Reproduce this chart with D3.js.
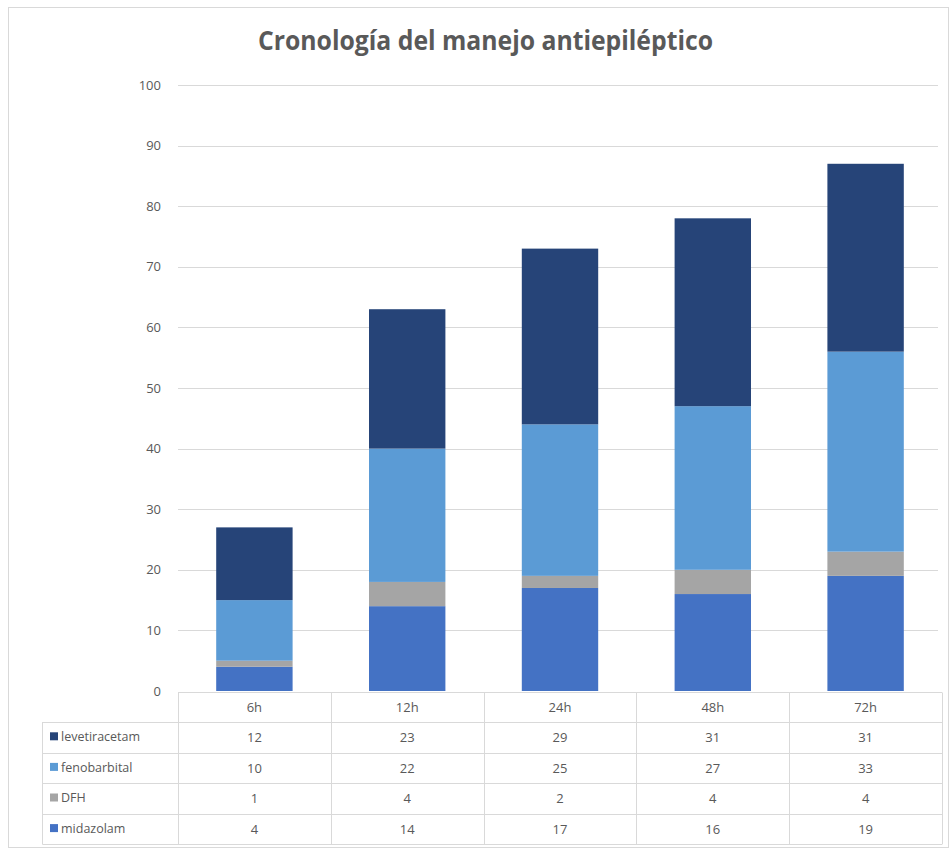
<!DOCTYPE html>
<html>
<head>
<meta charset="utf-8">
<script src="https://cdn.jsdelivr.net/npm/d3@7"></script>
<style>
  body { margin: 0; background: #fff; }
  svg { font-family: "Open Sans", "Liberation Sans", sans-serif; }
</style>
</head>
<body>
<script>
// data
let categories = ["6h", "12h", "24h", "48h", "72h"];
let seriesNames = ["midazolam", "DFH", "fenobarbital", "levetiracetam"];
let midazolam = [4, 14, 17, 16, 19];
let dfh = [1, 4, 2, 4, 4];
let fenobarbital = [10, 22, 25, 27, 33];
let levetiracetam = [12, 23, 29, 31, 31];
let yTicks = [0, 10, 20, 30, 40, 50, 60, 70, 80, 90, 100];

let colors = {
  midazolam: "#4472c4",
  DFH: "#a5a5a5",
  fenobarbital: "#5b9bd5",
  levetiracetam: "#264478"
};

// table rows order (top to bottom)
let tableRows = [
  {name: "levetiracetam", values: levetiracetam},
  {name: "fenobarbital", values: fenobarbital},
  {name: "DFH", values: dfh},
  {name: "midazolam", values: midazolam}
];

let rows = categories.map((c, i) => ({
  cat: c,
  midazolam: midazolam[i],
  DFH: dfh[i],
  fenobarbital: fenobarbital[i],
  levetiracetam: levetiracetam[i]
}));

let width = 952, height = 852;
let svg = d3.select("body").append("svg")
  .attr("width", width)
  .attr("height", height);

// chart frame
svg.append("rect")
  .attr("x", 8.5).attr("y", 7.5)
  .attr("width", 940).attr("height", 840)
  .attr("fill", "#fff")
  .attr("stroke", "#d9d9d9");

let left = 178, right = 942;
let x = d3.scaleBand().domain(categories).range([left, right])
  .paddingInner(0.5).paddingOuter(0.25);
let xCol = d3.scaleBand().domain(categories).range([left, right]).padding(0);
let y = d3.scaleLinear().domain([0, 100]).range([691, 85]);

// title
svg.append("text")
  .attr("x", 485.5).attr("y", 50)
  .attr("text-anchor", "middle")
  .attr("textLength", 455)
  .attr("lengthAdjust", "spacingAndGlyphs")
  .style("font-size", "26px")
  .style("font-weight", "bold")
  .style("fill", "#595959")
  .text("Cronología del manejo antiepiléptico");

// gridlines
svg.append("g")
  .selectAll("line")
  .data(yTicks.filter(d => d > 0))
  .enter()
  .append("line")
  .attr("x1", left).attr("x2", right - 4)
  .attr("y1", d => Math.round(y(d)) + 0.5)
  .attr("y2", d => Math.round(y(d)) + 0.5)
  .attr("stroke", "#d9d9d9");

// y axis labels
let yAxis = d3.axisLeft(y).tickValues(yTicks).tickSize(0).tickPadding(0);
let yg = svg.append("g")
  .attr("transform", "translate(" + (left - 17) + ",0)")
  .call(yAxis);
yg.select(".domain").remove();
yg.selectAll("text")
  .style("font-size", "13px")
  .style("fill", "#595959")
  .style("font-family", "'Open Sans', sans-serif");

// stacked bars
let stack = d3.stack().keys(seriesNames);
let stacked = stack(rows);

svg.append("g")
  .selectAll("g")
  .data(stacked)
  .enter()
  .append("g")
  .attr("fill", d => colors[d.key])
  .selectAll("rect")
  .data(d => d)
  .enter()
  .append("rect")
  .attr("x", d => x(d.data.cat))
  .attr("y", d => y(d[1]))
  .attr("width", x.bandwidth())
  .attr("height", d => y(d[0]) - y(d[1]));

// data table
let tableTop = 692.5, headerH = 29.5, rowH = 30.6;
let tableLeft = 42.5;
let tableBottom = tableTop + headerH + rowH * tableRows.length;
let lineColor = "#d9d9d9";
let tg = svg.append("g");

// horizontal lines
tg.append("line")
  .attr("x1", left).attr("x2", right)
  .attr("y1", tableTop).attr("y2", tableTop)
  .attr("stroke", lineColor);
d3.range(tableRows.length + 1).forEach(i => {
  let yy = Math.round(tableTop + headerH + rowH * i) + 0.5;
  tg.append("line")
    .attr("x1", tableLeft).attr("x2", right)
    .attr("y1", yy).attr("y2", yy)
    .attr("stroke", lineColor);
});
// vertical lines
tg.append("line")
  .attr("x1", tableLeft).attr("x2", tableLeft)
  .attr("y1", tableTop + headerH).attr("y2", tableBottom)
  .attr("stroke", lineColor);
categories.forEach(c => {
  let xx = Math.round(xCol(c)) + 0.5;
  tg.append("line")
    .attr("x1", xx).attr("x2", xx)
    .attr("y1", tableTop).attr("y2", tableBottom)
    .attr("stroke", lineColor);
});
tg.append("line")
  .attr("x1", right + 0.5).attr("x2", right + 0.5)
  .attr("y1", tableTop).attr("y2", tableBottom)
  .attr("stroke", lineColor);

// header labels
tg.selectAll("text.head")
  .data(categories)
  .enter()
  .append("text")
  .attr("class", "head")
  .attr("x", d => xCol(d) + xCol.bandwidth() / 2)
  .attr("y", tableTop + headerH / 2 + 5)
  .attr("text-anchor", "middle")
  .style("font-size", "13px")
  .style("fill", "#595959")
  .text(d => d);

// rows
let rowG = tg.selectAll("g.row")
  .data(tableRows)
  .enter()
  .append("g")
  .attr("class", "row")
  .attr("transform", (d, i) => "translate(0," + (tableTop + headerH + rowH * i) + ")");

rowG.append("rect")
  .attr("x", 50).attr("y", rowH / 2 - 5)
  .attr("width", 8).attr("height", 8)
  .attr("fill", d => colors[d.name]);

rowG.append("text")
  .attr("x", 61).attr("y", rowH / 2 + 4)
  .style("font-size", "12.5px")
  .style("fill", "#595959")
  .text(d => d.name);

rowG.selectAll("text.val")
  .data(d => d.values)
  .enter()
  .append("text")
  .attr("class", "val")
  .attr("x", (d, i) => xCol(categories[i]) + xCol.bandwidth() / 2)
  .attr("y", rowH / 2 + 5)
  .attr("text-anchor", "middle")
  .style("font-size", "13px")
  .style("fill", "#595959")
  .text(d => d);
</script>
</body>
</html>
